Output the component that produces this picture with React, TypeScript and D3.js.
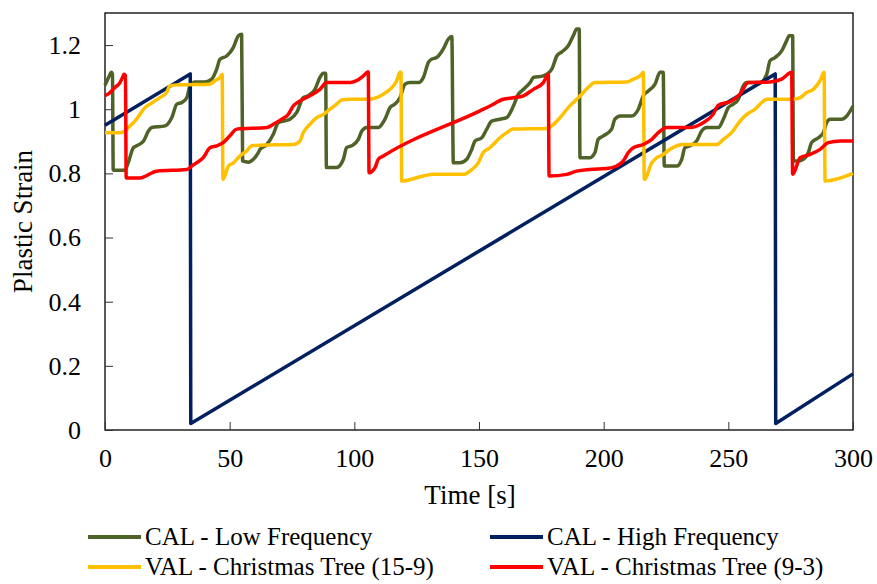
import React from 'react';
import {
    select,
    scaleLinear,
    line,
    curveMonotoneX,
    curveLinear,
    axisBottom,
    axisLeft,
} from 'd3';

// values: [time s, plastic strain]
const timeTicks = [0, 50, 100, 150, 200, 250, 300];
const strainTicks = [0, 0.2, 0.4, 0.6, 0.8, 1, 1.2];

const calLowFrequency = [
    [0, 1.075], [1.5, 1.1], [2.6, 1.115], [3.0, 1.11], [3.3, 0.81], [8, 0.81],
    [9.3, 0.833], [11.4, 0.88], [12.7, 0.886], [15.4, 0.9], [17.4, 0.932], [18.7, 0.943],
    [24.1, 0.948], [26.8, 0.974], [28.8, 1.016], [30.8, 1.021], [32.8, 1.036], [34.1, 1.073],
    [36.1, 1.085], [40.1, 1.085], [42.8, 1.094], [44.8, 1.125], [46.1, 1.156], [48.8, 1.166],
    [51.5, 1.193], [53.5, 1.229], [54.8, 1.234], [55.2, 0.839], [57.5, 0.835], [59.5, 0.844],
    [61.5, 0.865], [62.2, 0.875], [64.9, 0.89], [67.5, 0.922], [69.5, 0.958], [72.2, 0.964],
    [74.2, 0.969], [76.9, 0.99], [79.5, 1.036], [81.5, 1.042], [84.2, 1.062], [86.2, 1.099],
    [87.6, 1.112], [88.5, 1.112], [88.8, 0.818], [92.9, 0.818], [95.6, 0.844], [96.9, 0.88],
    [98.9, 0.886], [101.6, 0.906], [103.0, 0.932], [105.0, 0.943], [109.6, 0.943], [112.3, 0.969],
    [114.3, 1.005], [116.3, 1.016], [118.3, 1.036], [120.3, 1.078], [122.3, 1.083], [125.7, 1.083],
    [127.7, 1.099], [129.7, 1.146], [131.0, 1.156], [133.0, 1.161], [135.7, 1.188], [137.7, 1.219],
    [139.1, 1.227], [139.7, 0.833], [142.4, 0.833], [145.1, 0.844], [147.1, 0.875], [148.4, 0.901],
    [151.1, 0.911], [153.1, 0.938], [155.1, 0.963], [158.4, 0.969], [161.1, 0.974], [163.8, 1.01],
    [165.8, 1.047], [167.1, 1.057], [170.5, 1.083], [171.8, 1.099], [175.8, 1.104], [179.2, 1.125],
    [181.2, 1.166], [183.2, 1.179], [185.8, 1.198], [187.8, 1.229], [189.2, 1.25], [190.2, 1.25],
    [190.5, 0.849], [194.5, 0.849], [196.5, 0.865], [197.8, 0.906], [199.9, 0.917], [203.2, 0.938],
    [204.5, 0.969], [206.6, 0.979], [211.2, 0.979], [213.9, 1.0], [215.9, 1.042], [217.9, 1.057],
    [220.6, 1.078], [222.6, 1.115], [223.9, 1.115], [224.3, 0.823], [229.3, 0.823], [231.3, 0.844],
    [232.6, 0.88], [234.6, 0.886], [237.3, 0.901], [239.3, 0.932], [241.3, 0.943], [246.0, 0.943],
    [248.0, 0.969], [250.0, 1.005], [252.0, 1.016], [254.0, 1.031], [256.0, 1.073], [257.4, 1.083],
    [262.7, 1.083], [265.4, 1.109], [266.7, 1.151], [268.7, 1.161], [271.4, 1.182], [273.4, 1.214],
    [274.4, 1.229], [275.8, 1.229], [276.1, 0.839], [278.1, 0.839], [280.1, 0.844], [282.1, 0.865],
    [283.4, 0.896], [286.1, 0.911], [288.1, 0.927], [289.4, 0.958], [290.8, 0.969], [295.5, 0.969],
    [297.5, 0.979], [300, 1.01],
];

const calHighFrequency = [
    [0, 0.95], [34.2, 1.11], [34.4, 0.02], [268.8, 1.11], [269, 0.02], [300, 0.175],
];

const valTree159 = [
    [0, 0.927], [6, 0.927], [8, 0.932], [10, 0.948], [12, 0.963], [14, 0.984], [16, 1.005],
    [18, 1.016], [20, 1.026], [22, 1.036], [24.7, 1.052], [26.1, 1.073], [30.1, 1.076],
    [42.1, 1.078], [44.1, 1.089], [46.1, 1.099], [47.0, 1.109], [47.3, 0.781], [49.5, 0.823],
    [51.5, 0.833], [54.1, 0.854], [56.8, 0.87], [58.8, 0.886], [62.2, 0.888], [75.5, 0.89],
    [78.2, 0.901], [79.5, 0.927], [82.2, 0.953], [84.9, 0.974], [87.6, 0.984], [90.2, 1.0],
    [92.9, 1.016], [94.9, 1.029], [98.3, 1.031], [106.3, 1.031], [108.9, 1.036], [111.6, 1.047],
    [114.3, 1.062], [117.0, 1.089], [118.3, 1.115], [118.7, 1.115], [119.0, 0.776], [127.7, 0.792],
    [131.7, 0.797], [143.7, 0.797], [147.1, 0.812], [149.7, 0.833], [151.7, 0.865], [154.4, 0.88],
    [155.7, 0.89], [158.4, 0.911], [161.1, 0.927], [163.8, 0.938], [177.2, 0.94], [179.2, 0.948],
    [182.5, 0.974], [185.8, 1.005], [188.5, 1.026], [191.2, 1.047], [193.8, 1.068], [196.5, 1.083],
    [209.2, 1.085], [211.9, 1.094], [214.6, 1.104], [215.9, 1.115], [216.3, 0.781], [219.3, 0.833],
    [221.3, 0.849], [223.9, 0.859], [226.6, 0.875], [231.9, 0.89], [245.3, 0.89], [248.0, 0.906],
    [251.3, 0.927], [254.7, 0.963], [257.4, 0.984], [260.7, 1.0], [263.4, 1.021], [265.4, 1.031],
    [276.1, 1.031], [278.8, 1.036], [281.4, 1.052], [284.1, 1.062], [286.8, 1.089], [288.4, 1.115],
    [288.8, 0.776], [300, 0.8],
];

const valTree93 = [
    [0, 1.042], [2, 1.052], [4, 1.068], [6, 1.083], [7.3, 1.104], [7.6, 1.109], [8.2, 1.105],
    [8.5, 0.786], [14, 0.786], [20.7, 0.807], [32.8, 0.812], [34.8, 0.823], [36.8, 0.833],
    [39.4, 0.849], [42.1, 0.88], [44.8, 0.886], [47.4, 0.896], [50.1, 0.917], [52.8, 0.938],
    [64.9, 0.943], [67.5, 0.953], [70.9, 0.969], [73.5, 0.984], [75.5, 1.01], [78.2, 1.026],
    [82.2, 1.042], [86.2, 1.062], [88.9, 1.083], [98.3, 1.083], [100.9, 1.089], [103.6, 1.104],
    [105.6, 1.117], [105.9, 0.802], [108.3, 0.818], [109.6, 0.844], [111.6, 0.854], [150.4, 0.995],
    [154.4, 1.01], [159.7, 1.031], [163.8, 1.036], [167.8, 1.042], [171.8, 1.062], [175.8, 1.083],
    [177.8, 1.109], [178.1, 0.792], [185.2, 0.797], [189.2, 0.807], [194.5, 0.812], [201.2, 0.815],
    [205.2, 0.823], [207.9, 0.839], [209.9, 0.865], [211.9, 0.88], [215.9, 0.89], [219.3, 0.906],
    [221.9, 0.927], [225.3, 0.943], [234.6, 0.943], [239.9, 0.958], [243.9, 0.984], [245.9, 1.012],
    [251.3, 1.026], [254.7, 1.047], [258.0, 1.083], [266.7, 1.085], [271.4, 1.094], [275.4, 1.115],
    [275.8, 0.797], [278.8, 0.849], [282.8, 0.859], [286.8, 0.875], [290.1, 0.896], [294.8, 0.901],
    [300, 0.901],
];

const seriesNames = [
    'CAL - Low Frequency',
    'CAL - High Frequency',
    'VAL - Christmas Tree (15-9)',
    'VAL - Christmas Tree (9-3)',
];
const seriesData = [calLowFrequency, calHighFrequency, valTree159, valTree93];
const seriesColors = ['#4F6228', '#002060', '#FFC000', '#FF0000'];

const FONT = '"Liberation Serif", "Times New Roman", "DejaVu Serif", serif';

class Chart extends React.Component {
    node: SVGSVGElement | null = null;

    componentDidMount() {
        this.draw();
    }

    componentDidUpdate() {
        this.draw();
    }

    draw() {
        const svg = select(this.node);
        svg.selectAll('*').remove();

        const left = 105, right = 853, top = 13, bottom = 430;

        const x = scaleLinear().domain([0, 300]).range([left, right]);
        const y = scaleLinear().domain([0, 1.3]).range([bottom, top]);

        // frame
        svg.append('rect')
            .attr('x', left)
            .attr('y', top)
            .attr('width', right - left)
            .attr('height', bottom - top)
            .attr('fill', 'white')
            .attr('stroke', '#000')
            .attr('stroke-width', 1.3);

        // ticks point inwards
        const xAxis = svg.append('g')
            .attr('transform', `translate(0,${bottom})`)
            .call(axisBottom(x).tickValues(timeTicks).tickSizeInner(-8).tickSizeOuter(0).tickPadding(19));
        const yAxis = svg.append('g')
            .attr('transform', `translate(${left},0)`)
            .call(axisLeft(y).tickValues(strainTicks).tickFormat(d => String(d)).tickSizeInner(-8).tickSizeOuter(0).tickPadding(24));

        [xAxis, yAxis].forEach(g => {
            g.attr('font-family', null).attr('font-size', null);
            g.select('.domain').remove();
            g.selectAll('line').attr('stroke', '#333').attr('stroke-width', 1);
            g.selectAll('text')
                .style('font-family', FONT)
                .style('font-size', '26px')
                .attr('fill', '#000');
        });

        // series
        seriesData.forEach((data, i) => {
            const path = line()
                .x(d => x(d[0]))
                .y(d => y(d[1]))
                .curve(i === 1 ? curveLinear : curveMonotoneX);
            svg.append('path')
                .datum(data)
                .attr('d', path)
                .attr('fill', 'none')
                .attr('stroke', seriesColors[i])
                .attr('stroke-width', 3.5)
                .attr('stroke-linejoin', 'round');
        });

        // axis titles
        svg.append('text')
            .attr('x', 470)
            .attr('y', 504)
            .attr('text-anchor', 'middle')
            .style('font-family', FONT)
            .style('font-size', '27px')
            .text('Time [s]');

        svg.append('text')
            .attr('transform', `translate(32,${(top + bottom) / 2}) rotate(-90)`)
            .attr('text-anchor', 'middle')
            .style('font-family', FONT)
            .style('font-size', '27px')
            .text('Plastic Strain');

        // legend, two columns by two rows
        const colX = [88, 490];
        const rowY = [537, 567];
        seriesNames.forEach((name, i) => {
            const lx = colX[i % 2];
            const ly = rowY[Math.floor(i / 2)];
            const item = svg.append('g');
            item.append('line')
                .attr('x1', lx)
                .attr('x2', lx + 53)
                .attr('y1', ly)
                .attr('y2', ly)
                .attr('stroke', seriesColors[i])
                .attr('stroke-width', 4);
            item.append('text')
                .attr('x', lx + 57)
                .attr('y', ly)
                .attr('dy', '0.33em')
                .style('font-family', FONT)
                .style('font-size', '25px')
                .text(name);
        });
    }

    render() {
        return (
            <svg
                width={877}
                height={584}
                style={{ position: 'absolute', left: 0, top: 0, background: 'white', fontFamily: FONT }}
                ref={node => {
                    this.node = node;
                }}
            />
        );
    }
}

export default function App() {
    return <Chart />;
}
